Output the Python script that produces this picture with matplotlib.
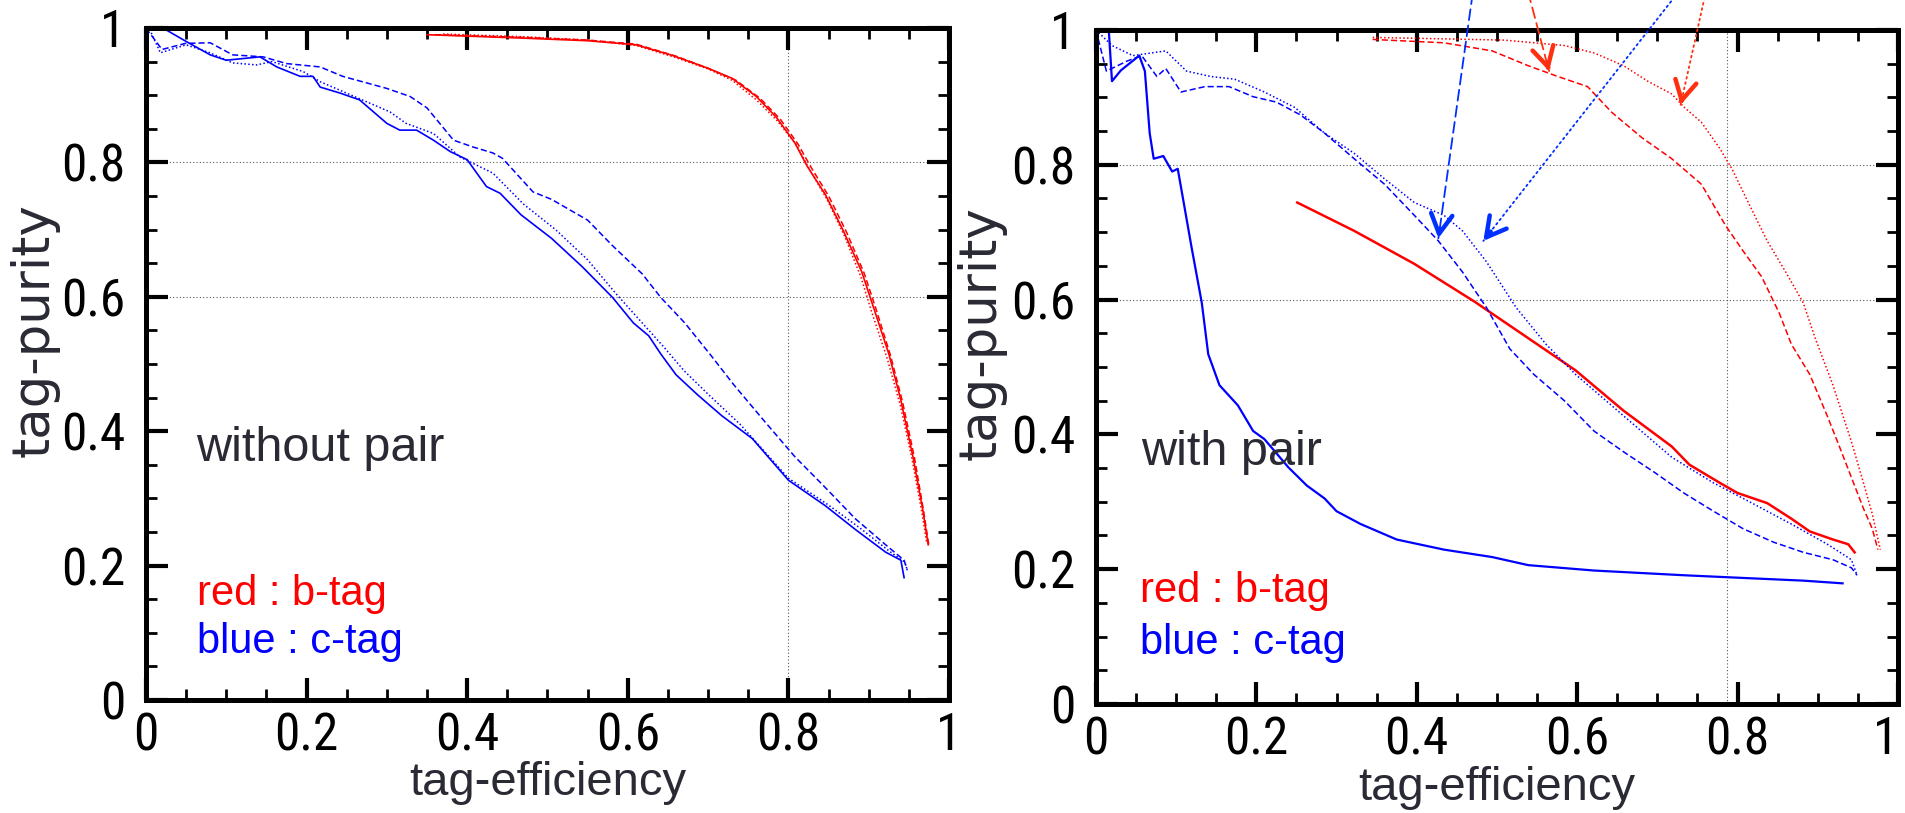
import matplotlib
matplotlib.use("Agg")
import matplotlib.pyplot as plt
from matplotlib import font_manager
from matplotlib.font_manager import FontProperties
from matplotlib.ticker import MultipleLocator, FixedLocator, FixedFormatter

# ---------------- without pair (left panel) ----------------
wo_red_solid_x = [0.35, 0.467, 0.55, 0.61, 0.656, 0.70, 0.73, 0.76, 0.785, 0.808, 0.823, 0.846, 0.868, 0.891, 0.906, 0.925, 0.94, 0.955, 0.967, 0.974]
wo_red_solid_y = [0.99, 0.985, 0.981, 0.975, 0.959, 0.94, 0.925, 0.898, 0.867, 0.829, 0.795, 0.752, 0.699, 0.638, 0.584, 0.515, 0.446, 0.362, 0.285, 0.231]
wo_red_dash_x = [0.36, 0.47, 0.55, 0.61, 0.66, 0.70, 0.735, 0.765, 0.79, 0.812, 0.828, 0.85, 0.872, 0.894, 0.909, 0.927, 0.942, 0.957, 0.968, 0.975]
wo_red_dash_y = [0.99, 0.986, 0.982, 0.976, 0.958, 0.94, 0.922, 0.895, 0.864, 0.827, 0.793, 0.75, 0.697, 0.636, 0.582, 0.513, 0.444, 0.36, 0.283, 0.229]
wo_red_dot_x = [0.37, 0.47, 0.55, 0.61, 0.657, 0.70, 0.73, 0.76, 0.786, 0.81, 0.826, 0.848, 0.87, 0.89, 0.904, 0.923, 0.939, 0.954, 0.966, 0.972]
wo_red_dot_y = [0.991, 0.987, 0.982, 0.974, 0.957, 0.939, 0.922, 0.893, 0.862, 0.826, 0.79, 0.745, 0.69, 0.63, 0.576, 0.508, 0.44, 0.358, 0.28, 0.235]

wo_blue_solid_x = [0.0, 0.021, 0.05, 0.08, 0.10, 0.142, 0.163, 0.192, 0.208, 0.217, 0.242, 0.266, 0.30, 0.316, 0.337, 0.358, 0.379, 0.40, 0.424, 0.441, 0.467, 0.505, 0.543, 0.581, 0.607, 0.626, 0.641, 0.66, 0.687, 0.717, 0.755, 0.80, 0.846, 0.883, 0.921, 0.94, 0.944]
wo_blue_solid_y = [1.0, 1.0, 0.98, 0.96, 0.952, 0.957, 0.942, 0.928, 0.928, 0.912, 0.903, 0.893, 0.858, 0.848, 0.848, 0.833, 0.816, 0.804, 0.764, 0.754, 0.722, 0.687, 0.645, 0.599, 0.561, 0.542, 0.515, 0.484, 0.454, 0.423, 0.389, 0.327, 0.289, 0.254, 0.22, 0.208, 0.182]
wo_blue_dash_x = [0.0, 0.02, 0.049, 0.08, 0.108, 0.146, 0.175, 0.217, 0.245, 0.30, 0.329, 0.35, 0.383, 0.407, 0.432, 0.444, 0.482, 0.505, 0.55, 0.581, 0.618, 0.641, 0.671, 0.702, 0.732, 0.77, 0.808, 0.846, 0.883, 0.921, 0.944, 0.948]
wo_blue_dash_y = [1.0, 0.968, 0.977, 0.978, 0.96, 0.957, 0.947, 0.942, 0.928, 0.91, 0.898, 0.881, 0.833, 0.823, 0.814, 0.806, 0.756, 0.745, 0.714, 0.676, 0.634, 0.599, 0.561, 0.515, 0.469, 0.415, 0.362, 0.316, 0.27, 0.231, 0.208, 0.193]
wo_blue_dot_x = [0.0, 0.005, 0.018, 0.05, 0.08, 0.108, 0.138, 0.157, 0.196, 0.217, 0.25, 0.304, 0.324, 0.358, 0.391, 0.432, 0.47, 0.51, 0.55, 0.585, 0.615, 0.645, 0.67, 0.70, 0.74, 0.80, 0.85, 0.89, 0.925, 0.945, 0.948]
wo_blue_dot_y = [1.0, 0.997, 0.963, 0.975, 0.963, 0.948, 0.945, 0.95, 0.935, 0.92, 0.903, 0.875, 0.858, 0.843, 0.808, 0.784, 0.738, 0.70, 0.655, 0.605, 0.565, 0.525, 0.49, 0.455, 0.41, 0.33, 0.29, 0.255, 0.222, 0.205, 0.193]

# ---------------- with pair (right panel) ----------------
wp_red_solid_x = [0.251, 0.322, 0.397, 0.472, 0.598, 0.658, 0.718, 0.74, 0.778, 0.80, 0.837, 0.867, 0.89, 0.919, 0.938, 0.946]
wp_red_solid_y = [0.744, 0.702, 0.653, 0.597, 0.495, 0.435, 0.382, 0.355, 0.328, 0.313, 0.298, 0.275, 0.256, 0.244, 0.237, 0.225]
wp_red_dash_x = [0.345, 0.434, 0.494, 0.539, 0.576, 0.613, 0.643, 0.681, 0.718, 0.755, 0.785, 0.807, 0.83, 0.852, 0.867, 0.89, 0.912, 0.927, 0.942, 0.957, 0.968, 0.975]
wp_red_dash_y = [0.986, 0.981, 0.969, 0.947, 0.931, 0.916, 0.878, 0.84, 0.809, 0.771, 0.71, 0.672, 0.634, 0.58, 0.534, 0.489, 0.427, 0.382, 0.336, 0.29, 0.26, 0.229]
wp_red_dot_x = [0.345, 0.509, 0.584, 0.621, 0.658, 0.688, 0.718, 0.733, 0.755, 0.778, 0.793, 0.815, 0.837, 0.86, 0.882, 0.897, 0.919, 0.942, 0.957, 0.968, 0.978]
wp_red_dot_y = [0.989, 0.985, 0.977, 0.966, 0.947, 0.924, 0.905, 0.886, 0.863, 0.824, 0.794, 0.74, 0.687, 0.641, 0.595, 0.542, 0.473, 0.389, 0.328, 0.282, 0.229]

wp_blue_solid_x = [0.0, 0.016, 0.02, 0.031, 0.054, 0.061, 0.067, 0.072, 0.084, 0.095, 0.102, 0.11, 0.119, 0.132, 0.14, 0.154, 0.177, 0.196, 0.21, 0.24, 0.263, 0.285, 0.30, 0.33, 0.375, 0.434, 0.494, 0.539, 0.621, 0.733, 0.807, 0.882, 0.931]
wp_blue_solid_y = [1.0, 1.0, 0.924, 0.94, 0.962, 0.939, 0.847, 0.809, 0.813, 0.79, 0.794, 0.74, 0.679, 0.595, 0.519, 0.473, 0.443, 0.405, 0.393, 0.351, 0.324, 0.305, 0.286, 0.267, 0.244, 0.229, 0.218, 0.206, 0.198, 0.191, 0.187, 0.183, 0.179]
wp_blue_dash_x = [0.0, 0.013, 0.039, 0.057, 0.076, 0.087, 0.106, 0.136, 0.166, 0.196, 0.225, 0.255, 0.285, 0.322, 0.36, 0.397, 0.427, 0.457, 0.487, 0.516, 0.546, 0.584, 0.621, 0.658, 0.696, 0.733, 0.77, 0.807, 0.845, 0.882, 0.919, 0.942, 0.949]
wp_blue_dash_y = [1.0, 0.939, 0.954, 0.962, 0.931, 0.943, 0.908, 0.916, 0.916, 0.901, 0.893, 0.874, 0.847, 0.809, 0.771, 0.725, 0.687, 0.641, 0.588, 0.527, 0.489, 0.45, 0.405, 0.374, 0.344, 0.313, 0.286, 0.26, 0.24, 0.225, 0.214, 0.202, 0.191]
wp_blue_dot_x = [0.0, 0.02, 0.046, 0.087, 0.113, 0.143, 0.173, 0.21, 0.248, 0.285, 0.322, 0.36, 0.397, 0.434, 0.457, 0.487, 0.524, 0.561, 0.598, 0.636, 0.673, 0.718, 0.77, 0.807, 0.867, 0.912, 0.942, 0.949]
wp_blue_dot_y = [1.0, 0.977, 0.962, 0.969, 0.939, 0.931, 0.927, 0.908, 0.885, 0.847, 0.817, 0.779, 0.744, 0.725, 0.702, 0.656, 0.588, 0.534, 0.489, 0.45, 0.412, 0.366, 0.328, 0.305, 0.267, 0.237, 0.214, 0.191]

# arrows in the right panel: (tail, head) in data coords
arrow_blue_dash = ((0.481, 1.15), (0.427, 0.691))
arrow_blue_dot = ((0.788, 1.15), (0.483, 0.687))
arrow_red_dash = ((0.518, 1.15), (0.565, 0.939))
arrow_red_dot = ((0.778, 1.15), (0.729, 0.889))

tick_labels = ["0", "0.2", "0.4", "0.6", "0.8", "1"]
tick_values = [0.0, 0.2, 0.4, 0.6, 0.8, 1.0]

RED = "#ff0000"
BLUE = "#0000ff"
ARROW_RED = "#ff3010"
ARROW_BLUE = "#0030ff"
TEXT = "#2a2a35"
label_font = "Liberation Sans"

DASH = (0, (4, 2))
DOT = (0, (1, 1.5))


def narrow_tick_font():
    # tick numbers in the reference are a tall, condensed sans face
    preferred = ["Liberation Sans Narrow", "Roboto Condensed", "Noto Sans",
                 "Open Sans", "DejaVu Sans"]
    cond = ("condensed", "semi-condensed", "extra-condensed")
    for name in preferred:
        for f in font_manager.fontManager.ttflist:
            if (f.name == name and f.stretch in cond and f.style == "normal"
                    and f.weight in (400, "normal", "regular", "book")):
                return FontProperties(fname=f.fname, size=37)
    return FontProperties(family="Liberation Sans", size=34)


tick_fp = narrow_tick_font()


def style_axes(ax, vgrid, ylab_x):
    ax.set_xlim(0, 1)
    ax.set_ylim(0, 1)
    for sp in ax.spines.values():
        sp.set_linewidth(3.6)
    ax.xaxis.set_major_locator(FixedLocator(tick_values))
    ax.yaxis.set_major_locator(FixedLocator(tick_values))
    ax.xaxis.set_major_formatter(FixedFormatter(tick_labels))
    ax.yaxis.set_major_formatter(FixedFormatter(tick_labels))
    ax.xaxis.set_minor_locator(MultipleLocator(0.05))
    ax.yaxis.set_minor_locator(MultipleLocator(0.05))
    ax.tick_params(which="both", direction="in", top=True, right=True)
    ax.tick_params(which="major", length=16, width=3.0)
    ax.tick_params(which="minor", length=8, width=2.0)
    ax.tick_params(axis="x", which="major", pad=8)
    ax.tick_params(axis="y", which="major", pad=15)
    for lab in ax.get_xticklabels() + ax.get_yticklabels():
        lab.set_fontproperties(tick_fp)
    for yv in [0.6, 0.8]:
        ax.axhline(yv, color="#555555", lw=0.8, ls=(0, (1, 2)), zorder=0)
    ax.axvline(vgrid, color="#555555", lw=0.8, ls=(0, (1, 2)), zorder=0)
    ax.text(0.5, -0.142, "tag-efficiency", transform=ax.transAxes, ha="center",
            va="baseline", fontsize=34, color=TEXT, family=label_font)
    ax.text(ylab_x, 0.55, "tag-purity", transform=ax.transAxes, ha="center",
            va="center", rotation=90, fontsize=37, color=TEXT, family="DejaVu Sans")


def draw_arrow(ax, tail, head, color, ls):
    ax.annotate("", xy=head, xytext=tail, annotation_clip=False,
                arrowprops=dict(arrowstyle="-", color=color, lw=1.3, ls=ls,
                                shrinkA=0, shrinkB=0))
    near = (head[0] + 0.03 * (tail[0] - head[0]), head[1] + 0.03 * (tail[1] - head[1]))
    ax.annotate("", xy=head, xytext=near, annotation_clip=False,
                arrowprops=dict(arrowstyle="->,head_length=1.0,head_width=0.55",
                                mutation_scale=14, color=color, lw=3.2,
                                shrinkA=0, shrinkB=0))


fig = plt.figure(figsize=(19.05, 8.13), dpi=100)

# left panel
ax1 = fig.add_axes([0.0766, 0.139, 0.4216, 0.8266])
style_axes(ax1, 0.8, -0.138)
ax1.plot(wo_red_dot_x, wo_red_dot_y, color=RED, lw=1.1, ls=DOT)
ax1.plot(wo_red_dash_x, wo_red_dash_y, color=RED, lw=1.1, ls=DASH)
ax1.plot(wo_red_solid_x, wo_red_solid_y, color=RED, lw=1.2)
ax1.plot(wo_blue_dot_x, wo_blue_dot_y, color=BLUE, lw=1.1, ls=DOT)
ax1.plot(wo_blue_dash_x, wo_blue_dash_y, color=BLUE, lw=1.1, ls=DASH)
ax1.plot(wo_blue_solid_x, wo_blue_solid_y, color=BLUE, lw=1.2)
ax1.text(0.062, 0.356, "without pair", fontsize=35, color=TEXT, family=label_font,
         va="baseline")
ax1.text(0.0635, 0.141, "red : b-tag", fontsize=30, color=RED, family=label_font,
         va="baseline")
ax1.text(0.0635, 0.07, "blue : c-tag", fontsize=30, color=BLUE, family=label_font,
         va="baseline")

# right panel
ax2 = fig.add_axes([0.5753, 0.1341, 0.421, 0.829])
style_axes(ax2, 0.787, -0.143)
ax2.plot(wp_red_dot_x, wp_red_dot_y, color=RED, lw=1.1, ls=DOT)
ax2.plot(wp_red_dash_x, wp_red_dash_y, color=RED, lw=1.1, ls=DASH)
ax2.plot(wp_red_solid_x, wp_red_solid_y, color=RED, lw=1.8)
ax2.plot(wp_blue_dot_x, wp_blue_dot_y, color=BLUE, lw=1.1, ls=DOT)
ax2.plot(wp_blue_dash_x, wp_blue_dash_y, color=BLUE, lw=1.1, ls=DASH)
ax2.plot(wp_blue_solid_x, wp_blue_solid_y, color=BLUE, lw=1.6)
ax2.text(0.056, 0.355, "with pair", fontsize=35, color=TEXT, family=label_font,
         va="baseline")
ax2.text(0.055, 0.151, "red : b-tag", fontsize=30, color=RED, family=label_font,
         va="baseline")
ax2.text(0.055, 0.074, "blue : c-tag", fontsize=30, color=BLUE, family=label_font,
         va="baseline")
# the last x label sits on the figure edge, keep it inside
ax2.get_xticklabels()[-1].set_horizontalalignment("right")

draw_arrow(ax2, arrow_blue_dash[0], arrow_blue_dash[1], ARROW_BLUE, (0, (6, 3)))
draw_arrow(ax2, arrow_blue_dot[0], arrow_blue_dot[1], ARROW_BLUE, (0, (1, 2)))
draw_arrow(ax2, arrow_red_dash[0], arrow_red_dash[1], ARROW_RED, (0, (6, 3)))
draw_arrow(ax2, arrow_red_dot[0], arrow_red_dot[1], ARROW_RED, (0, (1, 2)))

fig.savefig("out.png", dpi=100, facecolor="white")
